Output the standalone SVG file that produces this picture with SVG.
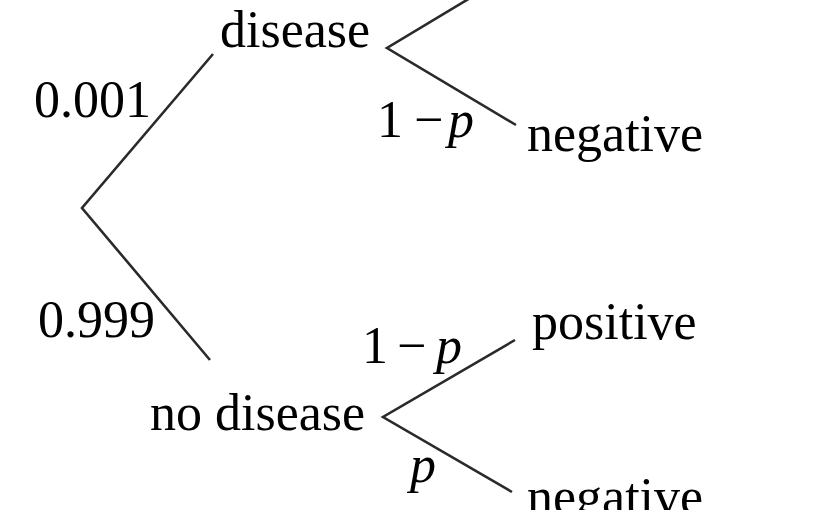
<svg xmlns="http://www.w3.org/2000/svg" width="825" height="510" viewBox="0 0 825 510">
<style>
text{font-family:"Liberation Serif","Times New Roman",serif;font-size:52px;fill:#000}
.it{font-style:italic}
.edge{stroke:#2a2a2a;stroke-width:2.6;fill:none;stroke-linecap:butt;stroke-linejoin:miter}
</style>
<rect width="825" height="510" fill="#fff"/>
<g id="connectors">
<polyline class="edge" points="213,54 82,208 210,360"/>
<polyline class="edge" points="515,-29 387,48 516,125"/>
<polyline class="edge" points="515,340 383,417 512,492"/>
</g>
<g id="edge-labels">
<text x="34" y="117">0.001</text>
<text x="38" y="337">0.999</text>
<text y="137"><tspan x="377">1</tspan><tspan x="414">−</tspan><tspan class="it" x="448">p</tspan></text>
<text y="363"><tspan x="362">1</tspan><tspan x="397">−</tspan><tspan class="it" x="436">p</tspan></text>
<text class="it" x="410" y="482">p</text>
</g>
<g id="node-disease"><text x="220" y="47">disease</text></g>
<g id="node-no-disease"><text x="150" y="430">no disease</text></g>
<g id="node-disease-negative"><text x="527" y="151">negative</text></g>
<g id="node-nodisease-positive"><text x="532" y="339">positive</text></g>
<g id="node-nodisease-negative"><text x="527" y="514">negative</text></g>
</svg>
